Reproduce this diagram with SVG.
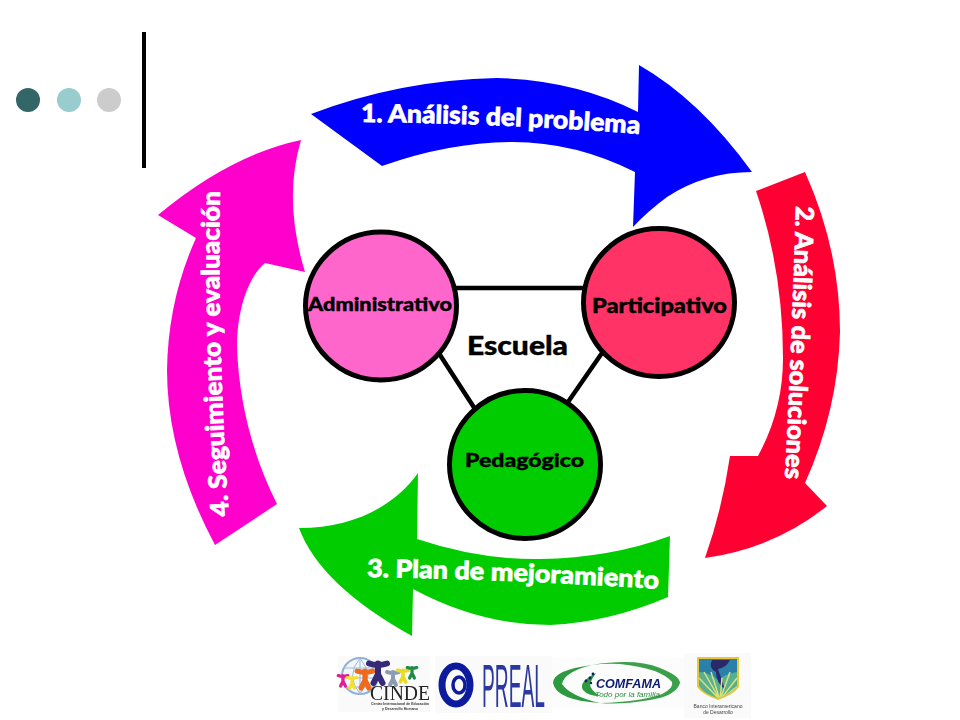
<svg xmlns="http://www.w3.org/2000/svg" width="960" height="720" viewBox="0 0 960 720">
<style>
.band{font-family:"Lato","Open Sans",sans-serif;font-weight:900;font-size:25px;fill:#fff;stroke:#fff;stroke-width:.7}
.lab{font-family:"Lato","Open Sans",sans-serif;font-weight:900;fill:#000;stroke:#000;stroke-width:.4}
.ln{stroke:#000;stroke-width:4.5;fill:none}
.circ{stroke:#000;stroke-width:5}
.lg{font-family:"Liberation Sans",sans-serif}
.lgs{font-family:"Liberation Serif",serif}
.fig{fill:none;stroke-width:4;stroke-linecap:round}
</style>
<defs>
<path id="p1" d="M361,122 Q500,123 640,134"/>
<path id="p2" d="M796,206 Q792,340 785,479"/>
<path id="p3" d="M367,577 Q510,579 659,589"/>
<path id="p4" d="M229,516 Q217,350 220,191"/>
<filter id="soft" x="-5%" y="-5%" width="110%" height="110%"><feGaussianBlur stdDeviation="0.5"/></filter>
<clipPath id="shield"><path d="M699,659H737V686Q732,694 718,698Q704,694 699,686Z"/></clipPath>
<g id="person"><circle cx="0" cy="-7" r="2.8" stroke="none"/><path d="M-6,-3Q0,-1 6,-3M0,-3V4M0,4L-3,10M0,4L3,10"/></g>
</defs>
<rect width="960" height="720" fill="#fff"/>
<g id="decor">
<circle cx="28" cy="100" r="12" fill="#336666"/>
<circle cx="69" cy="100" r="12" fill="#99cccc"/>
<circle cx="109" cy="100" r="12" fill="#cccccc"/>
<rect x="142" y="32" width="4" height="136" fill="#000"/>
</g>
<g id="connectors">
<line class="ln" x1="440" y1="288" x2="600" y2="288"/>
<line class="ln" x1="440" y1="355" x2="475" y2="409"/>
<line class="ln" x1="602" y1="353" x2="568" y2="402"/>
</g>
<g id="arrow1">
<path fill="#0000ff" d="M311,114 Q400,80 497,78 Q575,80 638,112 L639,65 Q700,100 752,172 Q705,172 667,197 Q648,211 633,227 L635,172 Q575,142 513,142 Q450,142 382,166 Z"/>
<text class="band"><textPath href="#p1" textLength="279" lengthAdjust="spacingAndGlyphs">1. Análisis del problema</textPath></text>
</g>
<g id="arrow2">
<path fill="#ff0033" d="M805,172 Q840,250 840,332 Q838,410 805,483 L827,506 Q775,548 705,558 Q722,510 730,456 L758,456 Q783,410 783,358 Q783,270 756,191 Z"/>
<text class="band"><textPath href="#p2" textLength="273" lengthAdjust="spacingAndGlyphs">2. Análisis de soluciones</textPath></text>
</g>
<g id="arrow3">
<path fill="#00cc00" d="M670,536 Q610,558 540,559 Q480,560 417,539 L418,473 C395,505 355,528 299,528 Q320,585 412,636 L413,589 Q480,625 550,625 Q610,622 668,597 Z"/>
<text class="band"><textPath href="#p3" textLength="292" lengthAdjust="spacingAndGlyphs">3. Plan de mejoramiento</textPath></text>
</g>
<g id="arrow4">
<path fill="#ff00cc" d="M301,140 Q283,200 305,272 L265,263 C248,277 237,310 237,347 Q240,430 277,504 L215,545 Q167,455 167,370 Q168,300 196,238 L158,215 Q230,155 301,140 Z"/>
<text class="band"><textPath href="#p4" textLength="325" lengthAdjust="spacingAndGlyphs">4. Seguimiento y evaluación</textPath></text>
</g>
<g id="node-administrativo">
<ellipse class="circ" cx="381" cy="306" rx="75.5" ry="74" fill="#ff66cc"/>
<text class="lab" x="308" y="311" font-size="18" textLength="144" lengthAdjust="spacingAndGlyphs">Administrativo</text>
</g>
<g id="node-participativo">
<ellipse class="circ" cx="659" cy="302.5" rx="75.5" ry="74" fill="#ff3366"/>
<text class="lab" x="592" y="313" font-size="20" textLength="135" lengthAdjust="spacingAndGlyphs">Participativo</text>
</g>
<g id="node-pedagogico">
<ellipse class="circ" cx="525" cy="464.5" rx="75.5" ry="74" fill="#00cc00"/>
<text class="lab" x="465" y="467" font-size="19" textLength="119" lengthAdjust="spacingAndGlyphs">Pedagógico</text>
</g>
<g id="label-escuela">
<text class="lab" x="467" y="355" font-size="27" textLength="101" lengthAdjust="spacingAndGlyphs">Escuela</text>
</g>
<g id="logos" filter="url(#soft)">
<g id="logo-cinde">
<rect x="338" y="656" width="92" height="56" fill="#fafafa"/>
<circle cx="360" cy="676" r="18" fill="#f2f6fb" stroke="#8fb0d8" stroke-width="2"/>
<path d="M344,668H376M342,678H378M345,687H375M360,658V694M360,658Q345,676 360,694M360,658Q375,676 360,694" stroke="#9dbbdd" fill="none"/>
<use href="#person" x="343" y="678" class="fig" stroke="#e01f9a" fill="#e01f9a" transform="translate(343 678) scale(.8) translate(-343 -678)"/>
<use href="#person" x="352" y="680" class="fig" stroke="#f5e02a" fill="#f5e02a" transform="translate(352 680) scale(.8) translate(-352 -680)"/>
<use href="#person" x="365" y="675" class="fig" stroke="#ef6a1f" fill="#ef6a1f" transform="translate(365 675) scale(1.3) translate(-365 -675)"/>
<use href="#person" x="378" y="668" class="fig" stroke="#352a78" fill="#352a78" transform="translate(378 668) scale(1.5) translate(-378 -668)"/>
<use href="#person" x="393" y="675" class="fig" stroke="#8a9bb5" fill="#8a9bb5"/>
<use href="#person" x="403" y="673" class="fig" stroke="#e8dc20" fill="#e8dc20" transform="translate(403 673) scale(.9) translate(-403 -673)"/>
<use href="#person" x="412" y="670" class="fig" stroke="#1f8a4a" fill="#1f8a4a" transform="translate(412 670) scale(.8) translate(-412 -670)"/>
<text class="lgs" x="370" y="700" font-size="22" textLength="60" lengthAdjust="spacingAndGlyphs" fill="#222">CINDE</text>
<text class="lg" x="371" y="704.5" font-size="3.6" font-weight="bold" textLength="58" lengthAdjust="spacingAndGlyphs" fill="#333">Centro Internacional de Educación</text>
<text class="lg" x="382" y="709.5" font-size="3.6" font-weight="bold" textLength="36" lengthAdjust="spacingAndGlyphs" fill="#333">y Desarrollo Humano</text>
</g>
<g id="logo-preal">
<rect x="435" y="656" width="117" height="57" fill="#fafafa"/>
<ellipse cx="456" cy="685" rx="14" ry="19" fill="none" stroke="#0c1c9c" stroke-width="7"/>
<ellipse cx="459" cy="685" rx="6" ry="8" fill="none" stroke="#0c1c9c" stroke-width="3.5"/>
<text class="lg" x="482" y="707" font-size="62" textLength="63" lengthAdjust="spacingAndGlyphs" fill="#2a38a0">PREAL</text>
</g>
<g id="logo-comfama">
<rect x="552" y="658" width="132" height="50" fill="#fcfcfc"/>
<path d="M592,665 Q553,670 553,683 Q556,700 600,703 Q570,696 562,684 Q564,672 592,665Z" fill="#2f9a3f"/>
<path d="M592,665 Q635,658 660,668 Q680,676 680,683 Q676,696 650,700 Q620,705 600,703 Q640,702 662,694 Q674,688 672,682 Q660,668 620,664 Q605,663 592,665Z" fill="#3aa04a"/>
<path d="M596,673 Q578,682 583,690 Q588,696 600,696 Q590,690 590,684 Q592,678 596,673Z" fill="#2f9a3f"/>
<g fill="#0c1c6c"><circle cx="593" cy="674" r="1.4"/><circle cx="590" cy="678" r="1.4"/><circle cx="586" cy="681" r="1.4"/><circle cx="591" cy="683" r="1.2"/></g>
<text class="lg" x="596" y="688" font-size="13.5" font-weight="bold" font-style="italic" textLength="65" lengthAdjust="spacingAndGlyphs" fill="#0c1c6c">COMFAMA</text>
<text class="lg" x="595" y="697" font-size="7" font-style="italic" textLength="65" lengthAdjust="spacingAndGlyphs" fill="#2f8a3f">Todo por la familia</text>
</g>
<g id="logo-bid">
<rect x="684" y="653" width="67" height="65" fill="#fafafa"/>
<path d="M697,657H739V687Q733,695 718,700Q703,695 697,687Z" fill="#e8c838"/>
<g clip-path="url(#shield)">
<rect x="699" y="659" width="38" height="40" fill="#58b090"/>
<path d="M699,659H737V672Q725,674 718,680Q708,672 699,672Z" fill="#2a80a8"/>
<path d="M712,660H730Q726,668 718,669Q722,680 725,690Q716,682 716,672Q708,668 712,660Z" fill="#2a2a6a"/>
<path d="M720,700L699,678M720,700L704,672M720,700L711,672M720,700L722,678M720,700L730,672M720,700L737,678M720,700L738,686" stroke="#d8e080" stroke-width="1.5"/>
</g>
<text class="lg" x="718" y="708" font-size="5" text-anchor="middle" fill="#444">Banco Interamericano</text>
<text class="lg" x="718" y="714" font-size="5" text-anchor="middle" fill="#444">de Desarrollo</text>
</g>
</g>
</svg>
